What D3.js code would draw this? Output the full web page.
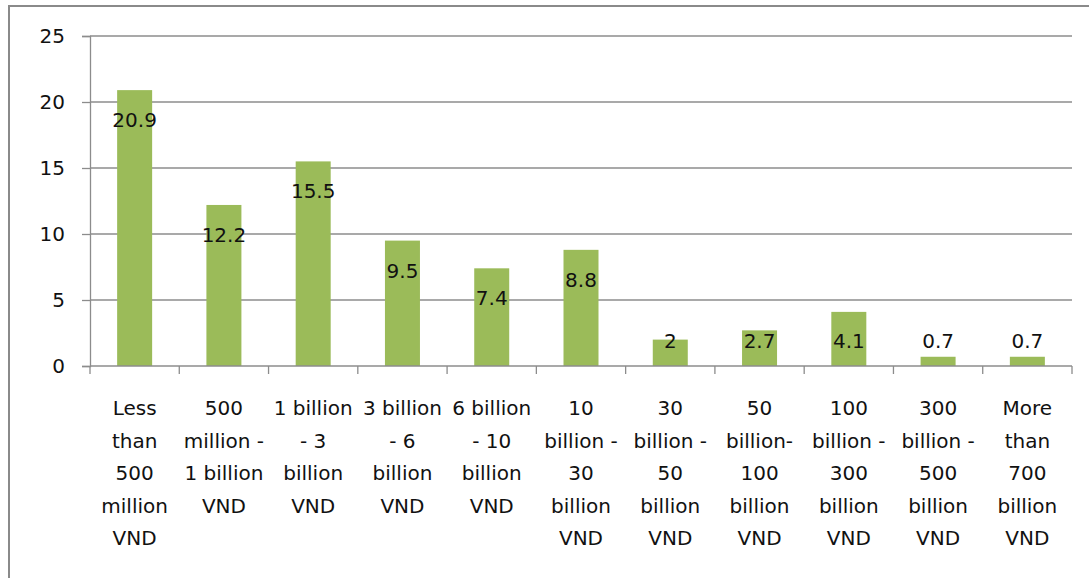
<!DOCTYPE html>
<html><head><meta charset="utf-8">
<script src="https://cdn.jsdelivr.net/npm/d3@7"></script>
<style>html,body{margin:0;padding:0;background:#fff;}svg{display:block;}</style>
</head><body>
<script>
const categories = [
  ["Less","than","500","million","VND"],
  ["500","million -","1 billion","VND"],
  ["1 billion","- 3","billion","VND"],
  ["3 billion","- 6","billion","VND"],
  ["6 billion","- 10","billion","VND"],
  ["10","billion -","30","billion","VND"],
  ["30","billion -","50","billion","VND"],
  ["50","billion-","100","billion","VND"],
  ["100","billion -","300","billion","VND"],
  ["300","billion -","500","billion","VND"],
  ["More","than","700","billion","VND"]
];
const values = [20.9, 12.2, 15.5, 9.5, 7.4, 8.8, 2, 2.7, 4.1, 0.7, 0.7];
const valueLabels = ["20.9","12.2","15.5","9.5","7.4","8.8","2","2.7","4.1","0.7","0.7"];
const yTicks = [0, 5, 10, 15, 20, 25];

const W = 1089, H = 578;
const M = {left: 90, right: 1072, top: 36, bottom: 366};
const font = "'DejaVu Sans', sans-serif";

const svg = d3.select("body").append("svg").attr("width", W).attr("height", H);

// outer frame (cropped: only top & left visible)
svg.append("rect").attr("x", 9).attr("y", 6).attr("width", 1200).attr("height", 700)
  .attr("fill", "none").attr("stroke", "#8a8a8a").attr("stroke-width", 2);

const x = d3.scaleBand().domain(d3.range(categories.length)).range([M.left, M.right]).paddingInner(0).paddingOuter(0);
const y = d3.scaleLinear().domain([0, 25]).range([M.bottom, M.top]);

// gridlines
svg.append("g").selectAll("line").data(yTicks.filter(d => d > 0)).join("line")
  .attr("x1", M.left).attr("x2", M.right)
  .attr("y1", d => y(d)).attr("y2", d => y(d))
  .attr("stroke", "#8c8c8c").attr("stroke-width", 1.3);

// y axis
const yAxis = svg.append("g").attr("transform", `translate(${M.left},0)`)
  .call(d3.axisLeft(y).tickValues(yTicks).tickSize(8).tickPadding(17).tickFormat(d3.format("d")));
yAxis.select(".domain").attr("stroke", "#8c8c8c").attr("stroke-width", 1.3);
yAxis.selectAll(".tick line").attr("stroke", "#8c8c8c").attr("stroke-width", 1.3);
yAxis.selectAll("text").attr("font-family", font).attr("font-size", 20).attr("fill", "#111");

// bars
const bw = 35;
svg.append("g").selectAll("rect").data(values).join("rect")
  .attr("x", (d, i) => x(i) + x.bandwidth() / 2 - bw / 2)
  .attr("width", bw)
  .attr("y", d => y(d))
  .attr("height", d => y(0) - y(d))
  .attr("fill", "#9bbb59");

// x axis line and ticks at band boundaries
const bounds = d3.range(categories.length + 1).map(i => i < categories.length ? x(i) : M.right);
svg.append("line").attr("x1", M.left).attr("x2", M.right).attr("y1", y(0)).attr("y2", y(0))
  .attr("stroke", "#8c8c8c").attr("stroke-width", 1.3);
svg.append("g").selectAll("line").data(bounds).join("line")
  .attr("x1", d => d).attr("x2", d => d).attr("y1", y(0)).attr("y2", y(0) + 8)
  .attr("stroke", "#8c8c8c").attr("stroke-width", 1.3);

// data labels
svg.append("g").selectAll("text").data(values).join("text")
  .attr("x", (d, i) => x(i) + x.bandwidth() / 2)
  .attr("y", d => Math.min(y(d) + 30, y(0) - 25))
  .attr("dy", "0.35em")
  .attr("text-anchor", "middle")
  .attr("font-family", font).attr("font-size", 20).attr("fill", "#111")
  .text((d, i) => valueLabels[i]);

// category labels
const cg = svg.append("g");
categories.forEach((lines, i) => {
  const t = cg.append("text")
    .attr("x", x(i) + x.bandwidth() / 2)
    .attr("y", 415)
    .attr("text-anchor", "middle")
    .attr("font-family", font).attr("font-size", 20).attr("fill", "#111");
  lines.forEach((ln, j) => {
    t.append("tspan").attr("x", x(i) + x.bandwidth() / 2).attr("y", 415 + j * 32.6).text(ln);
  });
});
</script>
</body></html>
